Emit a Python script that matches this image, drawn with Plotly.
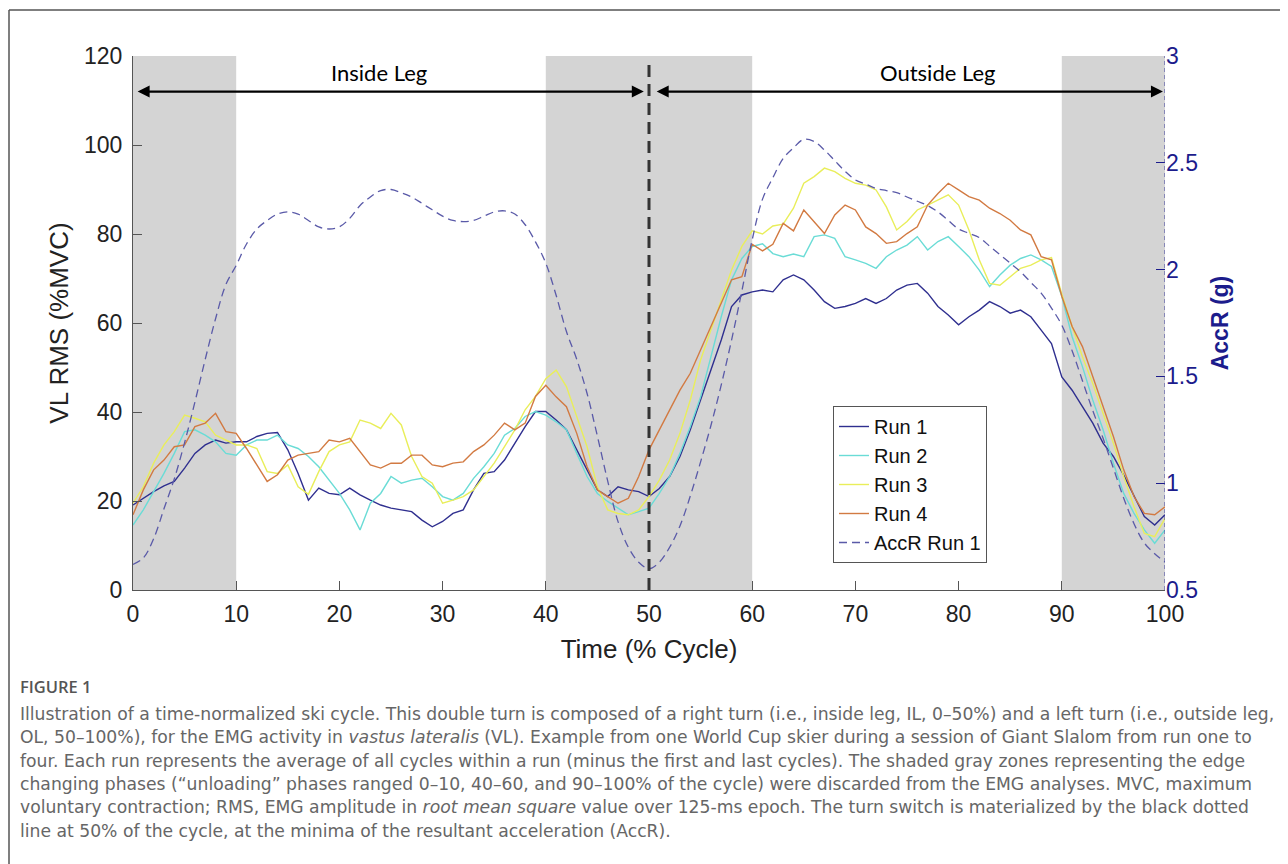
import plotly.graph_objects as go

# Time axis (% of cycle)
cycle = list(range(0, 101))

# VL RMS (%MVC) at 1 % steps
run1 = [19.1, 20.6, 22.1, 23.4, 24.4, 27.4, 30.7, 32.6, 33.7, 33.0,
        33.3, 33.3, 34.5, 35.2, 35.4, 31.5, 26.2, 20.2, 22.9, 21.7,
        21.4, 22.9, 21.4, 20.2, 19.1, 18.4, 18.0, 17.6, 15.7, 14.2,
        15.4, 17.2, 18.0, 22.5, 26.2, 26.6, 29.2, 33.0, 36.7, 40.1,
        40.1, 38.2, 36.0, 31.5, 27.0, 22.5, 21.0, 23.2, 22.5, 22.1,
        21.0, 22.8, 25.5, 30.0, 36.0, 42.7, 49.4, 56.2, 63.7, 66.3,
        67.0, 67.4, 67.0, 69.7, 70.8, 69.7, 67.4, 64.8, 63.3, 63.7,
        64.4, 65.5, 64.4, 65.5, 67.4, 68.5, 68.9, 66.7, 63.7, 61.8,
        59.6, 61.4, 62.9, 64.8, 63.7, 62.2, 62.9, 61.4, 58.4, 55.4,
        47.9, 44.9, 41.2, 37.5, 33.0, 30.0, 25.8, 21.0, 16.5, 14.6,
        16.9]
run2 = [14.6, 18.0, 22.1, 26.2, 30.7, 35.6, 36.0, 34.8, 33.3, 30.7,
        30.3, 32.6, 33.7, 33.7, 34.8, 32.6, 31.8, 30.0, 27.7, 24.7,
        21.7, 18.0, 13.5, 19.5, 21.7, 25.5, 24.0, 24.7, 25.1, 23.2,
        21.0, 20.2, 21.7, 25.1, 27.7, 30.7, 34.8, 36.3, 39.0, 40.1,
        39.3, 37.8, 36.0, 30.7, 25.5, 21.7, 19.9, 18.4, 16.9, 17.6,
        18.4, 21.7, 25.5, 30.7, 36.7, 43.4, 52.4, 61.4, 69.7, 74.5,
        77.2, 77.8, 75.6, 74.9, 75.5, 74.9, 79.4, 79.8, 79.0, 74.9,
        74.2, 73.4, 72.3, 74.9, 76.4, 77.5, 79.4, 76.4, 78.3, 79.4,
        77.2, 74.9, 71.9, 68.2, 70.8, 73.0, 74.5, 75.3, 74.2, 72.7,
        66.0, 56.9, 50.2, 42.7, 36.0, 28.5, 21.7, 17.2, 13.5, 10.5,
        13.5]
run3 = [19.5, 23.2, 28.5, 32.6, 35.6, 39.3, 38.6, 37.8, 34.8, 33.7,
        32.6, 32.6, 31.8, 26.6, 26.2, 28.1, 23.2, 21.5, 26.6, 31.1,
        32.6, 33.3, 38.2, 37.5, 36.3, 39.7, 37.1, 30.0, 25.5, 24.0,
        19.5, 20.2, 21.0, 22.5, 25.5, 28.5, 32.2, 36.0, 40.5, 43.5,
        47.5, 49.4, 45.7, 39.0, 32.2, 23.2, 18.0, 17.2, 16.9, 18.0,
        21.0, 24.7, 29.2, 35.2, 42.7, 51.7, 58.4, 65.2, 71.9, 77.2,
        80.7, 80.0, 81.8, 82.2, 85.8, 91.4, 92.9, 94.8, 94.0, 92.5,
        91.4, 91.0, 89.9, 86.1, 80.9, 82.8, 85.4, 86.5, 87.6, 88.8,
        86.5, 80.9, 74.2, 68.9, 68.5, 70.4, 72.3, 73.0, 74.2, 74.7,
        66.5, 59.2, 52.4, 46.4, 39.7, 33.0, 25.5, 18.7, 12.7, 12.0,
        16.1]
run4 = [16.9, 22.5, 27.0, 29.2, 32.2, 32.6, 36.7, 37.5, 39.7, 35.6,
        35.2, 31.8, 28.1, 24.4, 25.9, 29.2, 30.3, 30.7, 31.1, 33.7,
        33.3, 34.1, 31.1, 28.1, 27.4, 28.5, 28.5, 30.3, 30.3, 28.1,
        27.7, 28.5, 28.8, 31.1, 32.6, 34.8, 37.5, 36.0, 37.5, 43.5,
        46.0, 43.4, 41.2, 35.2, 27.7, 22.5, 21.0, 19.5, 20.6, 25.5,
        31.5, 36.0, 40.4, 44.9, 48.7, 53.9, 59.2, 64.4, 69.7, 70.4,
        77.7, 76.2, 77.7, 82.4, 80.7, 85.4, 82.8, 80.1, 84.3, 86.5,
        85.4, 81.6, 80.1, 77.9, 78.3, 80.1, 81.6, 86.5, 89.1, 91.4,
        89.9, 88.4, 87.6, 85.8, 84.6, 83.1, 80.9, 79.8, 74.9, 74.2,
        66.0, 59.2, 54.7, 47.9, 41.2, 34.5, 27.0, 21.0, 17.2, 16.9,
        18.7]

# Resultant acceleration of run 1 (g)
accr_run1 = [0.62, 0.65, 0.74, 0.88, 1.02, 1.19, 1.38, 1.58, 1.77, 1.93,
             2.02, 2.12, 2.19, 2.23, 2.26, 2.27, 2.26, 2.23, 2.20, 2.19,
             2.20, 2.24, 2.30, 2.34, 2.37, 2.375, 2.36, 2.34, 2.31, 2.28,
             2.25, 2.23, 2.225, 2.23, 2.25, 2.27, 2.275, 2.26, 2.21, 2.13,
             2.03, 1.88, 1.71, 1.58, 1.42, 1.22, 1.01, 0.82, 0.70, 0.63,
             0.60, 0.63, 0.70, 0.80, 0.94, 1.10, 1.27, 1.46, 1.67, 1.90,
             2.14, 2.33, 2.43, 2.52, 2.57, 2.61, 2.60, 2.56, 2.51, 2.46,
             2.42, 2.40, 2.38, 2.37, 2.36, 2.34, 2.32, 2.30, 2.27, 2.23,
             2.19, 2.17, 2.15, 2.11, 2.07, 2.03, 1.99, 1.94, 1.89, 1.82,
             1.74, 1.62, 1.48, 1.34, 1.21, 1.07, 0.93, 0.81, 0.72, 0.67,
             0.63]

# edge changing ("unloading") phases, % of cycle
shade_start = [0, 40, 90]
shade_end = [10, 60, 100]
turn_switch = 50

run_names = ["Run 1", "Run 2", "Run 3", "Run 4"]
run_colors = ["#2f2f8f", "#6adcd6", "#e9ee5a", "#d27a42"]
ACC_COLOR = "#5a5aa8"
NAVY = "#1c1c8c"

# the page has an 8px body margin, so the figure starts at (8, 8)
OFF = 8
W, H = 1288 - OFF, 864 - OFF
# plot area in page pixels
L, R, T, B = 133, 1165, 56, 590


def px_x(px):
    return (px - L) / (R - L)


def px_y(py):
    return (B - py) / (B - T)


fig = go.Figure()

for name, ys, col in zip(run_names, [run1, run2, run3, run4], run_colors):
    fig.add_trace(go.Scatter(x=cycle, y=ys, name=name, mode="lines",
                             line=dict(color=col, width=1.4)))

fig.add_trace(go.Scatter(x=cycle, y=accr_run1, name="AccR Run 1", mode="lines",
                         yaxis="y2",
                         line=dict(color=ACC_COLOR, width=1.3, dash="8px,5px",
                                   shape="spline")))

shapes = []
for s0, s1 in zip(shade_start, shade_end):
    shapes.append(dict(type="rect", xref="x", yref="y", x0=s0, x1=s1, y0=0, y1=120,
                       fillcolor="#d4d4d4", line=dict(width=0), layer="below"))
# turn switch
shapes.append(dict(type="line", xref="x", yref="y", x0=turn_switch, x1=turn_switch,
                   y0=0, y1=119, line=dict(color="#333333", width=3, dash="12px,7px"),
                   layer="above"))
# dashed right axis line
shapes.append(dict(type="line", xref="x", yref="paper", x0=100, x1=100, y0=0, y1=1,
                   line=dict(color="#3a3a9a", width=1, dash="4px,3px"), layer="above"))
# page frame
shapes.append(dict(type="line", xref="paper", yref="paper", x0=px_x(9), x1=px_x(1290),
                   y0=px_y(10), y1=px_y(10), line=dict(color="#555555", width=1.5)))
shapes.append(dict(type="line", xref="paper", yref="paper", x0=px_x(9), x1=px_x(9),
                   y0=px_y(10), y1=px_y(870), line=dict(color="#555555", width=1.5)))

annotations = []
# leg arrows
for a0, a1, label, xc in [(0.3, 49.5, "Inside Leg", 23.8), (50.6, 99.8, "Outside Leg", 78)]:
    annotations.append(dict(x=a1, y=112, ax=a0, ay=112, xref="x", yref="y",
                            axref="x", ayref="y", text="", showarrow=True,
                            arrowhead=2, arrowside="end+start", arrowsize=1,
                            arrowwidth=2.4, arrowcolor="black"))
    annotations.append(dict(x=xc, y=116.3, xref="x", yref="y", text=label,
                            showarrow=False, font=dict(family="Lato", size=22, color="black")))

caption_lines = [
    "Illustration of a time-normalized ski cycle. This double turn is composed of a right turn (i.e., inside leg, IL, 0\u201350%) and a left turn (i.e., outside leg,",
    "OL, 50\u2013100%), for the EMG activity in <i>vastus lateralis</i> (VL). Example from one World Cup skier during a session of Giant Slalom from run one to",
    "four. Each run represents the average of all cycles within a run (minus the first and last cycles). The shaded gray zones representing the edge",
    "changing phases (\u201cunloading\u201d phases ranged 0\u201310, 40\u201360, and 90\u2013100% of the cycle) were discarded from the EMG analyses. MVC, maximum",
    "voluntary contraction; RMS, EMG amplitude in <i>root mean square</i> value over 125-ms epoch. The turn switch is materialized by the black dotted",
    "line at 50% of the cycle, at the minima of the resultant acceleration (AccR).",
]
annotations.append(dict(x=px_x(18), y=px_y(687), xref="paper", yref="paper",
                        xanchor="left", yanchor="middle", showarrow=False,
                        text="FIGURE 1",
                        font=dict(family="Open Sans", size=16.5, color="#555555", weight=600)))
for i, line in enumerate(caption_lines):
    annotations.append(dict(x=px_x(18), y=px_y(714 + 23.3 * i), xref="paper", yref="paper",
                            xanchor="left", yanchor="middle", showarrow=False, text=line,
                            font=dict(family="DejaVu Sans", size=17.2, color="#666666")))

axis_font = dict(family="Liberation Sans, Arial", size=23, color="#222222")
title_font = dict(family="Liberation Sans, Arial", size=26, color="#222222")

fig.update_layout(
    width=W, height=H,
    margin=dict(l=L - OFF, r=(W + OFF) - R, t=T - OFF, b=(H + OFF) - B),
    plot_bgcolor="white", paper_bgcolor="white",
    showlegend=True,
    legend=dict(x=px_x(833), y=px_y(406), xanchor="left", yanchor="top",
                bgcolor="white", bordercolor="#555555", borderwidth=1,
                font=dict(family="Liberation Sans, Arial", size=20, color="#111111"),
                tracegroupgap=0),
    xaxis=dict(range=[0, 100], dtick=10, ticks="inside", ticklen=9, tickcolor="#555555",
               showline=True, linecolor="#555555", linewidth=1.2, showgrid=False,
               zeroline=False, tickfont=axis_font, ticklabelstandoff=3,
               title=dict(text="Time (% Cycle)", font=title_font, standoff=14)),
    yaxis=dict(range=[0, 120], dtick=20, ticks="inside", ticklen=9, tickcolor="#555555",
               showline=True, linecolor="#555555", linewidth=1.2, showgrid=False,
               zeroline=False, tickfont=axis_font, ticklabelstandoff=5,
               title=dict(text="VL RMS (%MVC)", font=title_font, standoff=7)),
    yaxis2=dict(range=[0.5, 3], dtick=0.5, overlaying="y", side="right",
                ticks="inside", ticklen=9, tickcolor=NAVY, showline=False,
                showgrid=False, zeroline=False,
                tickfont=dict(family="Liberation Sans, Arial", size=23, color=NAVY),
                title=dict(text="<b>AccR (g)</b>",
                           font=dict(family="Liberation Sans, Arial", size=23, color=NAVY),
                           standoff=14)),
    shapes=shapes,
    annotations=annotations,
)

fig.write_html("out.html")
